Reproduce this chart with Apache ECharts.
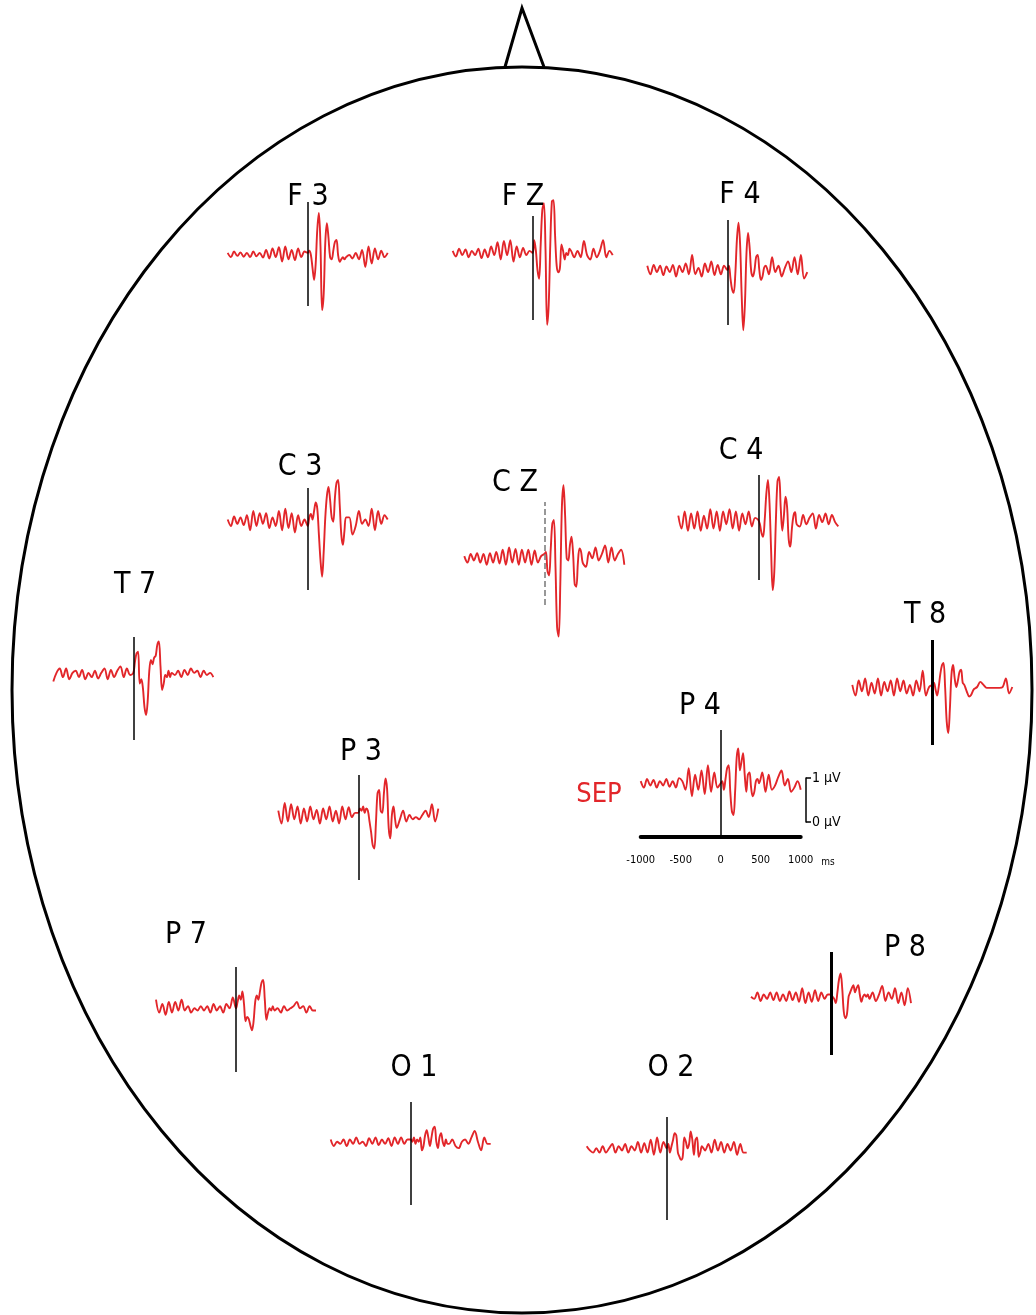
<!DOCTYPE html>
<html><head><meta charset="utf-8">
<script src="https://cdn.jsdelivr.net/npm/echarts@6/dist/echarts.min.js"></script>
<style>html,body{margin:0;padding:0;background:#fff}#c{width:1036px;height:1315px}</style>
</head><body><div id="c"></div>
<script>
// ---- data ----
const TIMES = [-1000,-960,-920,-880,-840,-800,-760,-720,-680,-640,-600,-560,-520,-480,-440,-400,-360,-320,-280,-240,-200,-160,-120,-80,-40,
  0,20,40,60,80,100,120,140,160,180,200,220,240,260,280,300,320,340,360,380,400,420,440,460,480,
  520,560,600,640,680,720,760,800,840,880,920,960,1000];
const X_TICKS = [-1000, -500, 0, 500, 1000];
const SCALE_TICKS = [0, 1];
const CHANNELS = ['F 3','F Z','F 4','C 3','C Z','C 4','T 7','T 8','P 3','P 4','P 7','P 8','O 1','O 2'];

const F3 = [0.05,-0.05,0.08,-0.02,0.06,-0.04,0.05,-0.05,0.08,-0.03,0.05,-0.06,0.12,-0.08,0.15,-0.05,0.18,-0.15,0.2,-0.1,0.12,-0.12,0.15,-0.05,0.08,
  0.05,0.1,0.0,-0.3,-0.58,-0.2,0.6,0.98,0.2,-1.28,-0.9,0.3,0.74,0.4,-0.05,-0.1,0.1,0.3,0.35,0.0,-0.16,-0.1,-0.05,-0.1,-0.05,
  0.0,-0.08,0.05,-0.1,0.12,-0.28,0.2,-0.2,0.15,-0.1,0.1,-0.05,0.05];
const FZ = [0.05,-0.08,0.1,-0.05,0.08,-0.1,0.05,-0.05,0.1,-0.12,0.08,-0.1,0.15,-0.05,0.25,-0.15,0.28,-0.05,0.3,-0.2,0.15,-0.1,0.12,-0.05,0.05,
  0.0,0.3,0.05,-0.4,-0.6,0.2,1.0,1.16,0.1,-1.67,-1.2,0.2,1.2,1.23,0.4,-0.3,-0.45,-0.35,0.2,0.05,-0.15,0.0,-0.05,0.1,0.05,
  -0.1,0.05,-0.1,0.28,-0.05,-0.15,0.1,-0.1,0.05,0.3,-0.1,0.05,-0.05];
const F4 = [0.1,-0.1,0.12,-0.05,0.1,-0.12,0.08,-0.05,0.12,-0.15,0.1,-0.05,0.15,-0.1,0.35,-0.1,0.05,-0.15,0.15,-0.05,0.2,-0.12,0.12,-0.1,0.1,
  0.0,0.1,-0.2,-0.45,-0.53,-0.1,0.7,1.1,0.6,-0.6,-1.4,-0.8,0.4,0.86,0.5,-0.05,-0.15,0.0,0.3,0.35,0.0,-0.23,-0.15,0.05,0.1,
  -0.1,0.3,-0.05,0.1,-0.15,0.05,0.2,-0.05,0.3,-0.1,0.35,-0.2,-0.05];
const C3 = [0.05,-0.1,0.12,-0.05,0.1,-0.08,0.15,-0.2,0.25,-0.1,0.2,-0.05,0.2,-0.15,0.1,-0.1,0.25,-0.2,0.3,-0.15,0.2,-0.25,0.15,-0.1,0.05,
  -0.1,0.1,0.18,0.05,0.25,0.45,0.3,-0.3,-0.9,-1.28,-0.7,0.1,0.6,0.81,0.5,0.1,0.0,0.55,0.9,0.97,0.4,-0.3,-0.54,-0.2,0.1,
  0.1,-0.3,-0.1,0.25,-0.05,0.05,-0.1,0.3,-0.2,0.25,-0.05,0.15,0.05];
const CZ = [0.05,-0.1,0.1,-0.05,0.12,-0.1,0.1,-0.15,0.12,-0.1,0.15,-0.12,0.2,-0.15,0.25,-0.1,0.22,-0.15,0.2,-0.1,0.2,-0.15,0.18,-0.1,0.05,
  0.1,0.15,-0.3,-0.4,0.2,0.8,0.89,-0.2,-1.6,-1.82,-0.6,1.2,1.7,1.0,0.0,-0.05,0.3,0.5,0.1,-0.6,-0.66,-0.1,0.23,0.15,-0.1,
  -0.2,0.15,0.0,0.25,-0.05,0.1,0.3,-0.1,0.25,-0.05,0.1,0.2,-0.15];
const C4 = [0.1,-0.2,0.2,-0.25,0.15,-0.2,0.2,-0.25,0.1,-0.2,0.25,-0.2,0.2,-0.25,0.2,-0.1,0.25,-0.2,0.2,-0.25,0.15,-0.1,0.2,-0.15,0.05,
  0.0,-0.1,-0.3,-0.39,0.0,0.6,0.93,0.4,-0.7,-1.63,-1.2,0.0,0.9,1.0,0.3,-0.25,0.1,0.54,0.3,-0.45,-0.62,-0.2,0.1,0.18,-0.1,
  -0.15,0.12,-0.1,0.05,0.15,-0.2,0.12,-0.05,0.15,-0.1,0.12,-0.05,-0.15];
const T7 = [-0.15,0.05,0.15,-0.05,0.15,-0.1,0.05,0.1,-0.05,0.12,-0.1,0.05,-0.05,0.1,-0.08,0.05,0.15,-0.1,0.12,-0.05,0.1,0.2,-0.05,0.15,0.0,
  0.05,0.3,0.5,0.54,-0.2,-0.1,-0.3,-0.75,-0.93,-0.6,0.1,0.35,0.25,0.4,0.45,0.7,0.78,0.2,-0.35,-0.2,0.0,-0.05,0.1,-0.05,0.05,
  0.0,0.1,-0.05,0.12,0.0,0.15,0.05,0.1,-0.05,0.1,0.0,0.05,-0.05];
const T8 = [0.05,-0.2,0.15,-0.1,0.2,-0.2,0.1,-0.15,0.2,-0.2,0.12,-0.1,0.15,-0.2,0.2,-0.1,0.15,-0.15,0.05,-0.2,0.15,-0.1,0.38,-0.2,0.0,
  0.05,0.1,-0.05,-0.2,0.0,0.3,0.5,0.56,0.0,-0.8,-1.07,-0.5,0.3,0.51,0.2,0.0,0.15,0.35,0.4,0.1,0.05,-0.05,-0.15,-0.22,-0.2,
  -0.05,0.0,0.12,0.05,-0.02,-0.02,-0.02,-0.02,-0.02,0.0,0.2,-0.15,0.0];
const P3 = [0.1,-0.2,0.28,-0.15,0.25,-0.1,0.2,-0.2,0.15,-0.15,0.2,-0.1,0.12,-0.2,0.15,-0.1,0.2,-0.15,0.1,-0.2,0.2,-0.1,0.18,-0.05,0.05,
  0.05,0.15,0.1,0.2,0.05,0.15,0.1,-0.15,-0.4,-0.7,-0.78,-0.2,0.5,0.58,0.1,0.05,0.5,0.85,0.6,-0.3,-0.54,0.0,0.2,-0.1,-0.3,
  -0.1,0.1,-0.15,0.0,-0.1,-0.05,-0.1,0.0,0.1,-0.05,0.25,-0.15,0.15];
const P4 = [0.05,-0.1,0.1,-0.05,0.08,-0.1,0.05,-0.05,0.1,-0.08,0.05,-0.1,0.12,0.05,-0.15,0.35,-0.3,0.2,-0.15,0.3,-0.25,0.42,-0.2,0.25,-0.1,
  0.0,0.05,-0.15,0.1,0.35,0.42,-0.2,-0.65,-0.74,-0.2,0.6,0.81,0.3,0.5,0.7,0.2,-0.2,0.2,0.25,-0.1,-0.3,-0.2,0.05,0.1,0.0,
  0.25,-0.2,0.2,-0.15,-0.05,0.15,0.3,-0.05,0.1,-0.2,-0.1,0.05,-0.15];
const P7 = [0.2,-0.1,0.1,-0.15,0.15,-0.1,0.15,-0.05,0.2,-0.05,0.05,-0.1,0.0,-0.05,0.05,-0.05,0.05,-0.1,0.1,-0.05,0.05,-0.1,0.1,0.0,0.25,
  0.0,0.15,0.3,0.2,0.39,0.1,-0.3,-0.2,-0.25,-0.4,-0.51,-0.3,0.15,0.3,0.2,0.4,0.6,0.66,0.2,-0.27,-0.1,0.0,-0.05,0.05,-0.05,
  0.0,-0.1,0.05,-0.05,0.0,0.05,0.15,0.0,0.05,-0.1,0.05,-0.05,-0.05];
const P8 = [0.0,-0.05,0.1,-0.1,0.05,-0.05,0.1,-0.08,0.1,-0.1,0.05,-0.1,0.12,-0.08,0.1,-0.12,0.2,-0.15,0.1,-0.12,0.15,-0.1,0.1,-0.05,0.05,
  0.05,0.0,-0.05,-0.15,0.1,0.4,0.54,0.2,-0.35,-0.5,-0.4,0.0,0.1,0.2,0.27,0.1,0.2,0.27,0.05,-0.12,0.0,0.05,0.0,0.05,-0.05,
  0.1,-0.1,0.05,0.25,-0.1,0.1,-0.05,0.2,-0.15,0.1,-0.2,0.2,-0.15];
const O1 = [0.05,-0.1,0.0,-0.05,0.05,-0.1,0.05,-0.05,0.1,-0.05,0.0,-0.1,0.08,-0.05,0.1,-0.08,0.05,-0.05,0.08,-0.1,0.1,-0.05,0.1,-0.05,0.05,
  0.05,0.0,0.1,-0.05,0.05,0.0,0.1,-0.2,-0.1,0.15,0.27,0.1,-0.1,0.1,0.3,0.35,0.0,-0.15,0.1,0.2,0.0,-0.1,0.05,-0.05,-0.05,
  0.05,-0.1,-0.15,0.0,0.05,-0.05,0.1,0.25,0.0,-0.2,0.1,-0.05,-0.05];
const O2 = [0.05,-0.05,-0.1,0.0,-0.1,0.05,-0.1,0.0,0.1,-0.1,0.05,-0.05,0.1,-0.1,0.05,-0.05,0.15,-0.1,0.12,-0.1,0.2,-0.15,0.25,-0.1,0.15,
  0.0,0.1,-0.1,0.05,0.2,0.35,0.3,-0.1,-0.2,-0.27,-0.2,0.25,0.15,0.0,0.1,0.39,0.2,-0.15,0.2,0.25,-0.2,-0.1,0.05,0.0,-0.05,
  0.1,-0.1,0.2,-0.05,0.15,-0.1,0.1,-0.05,0.15,-0.15,0.1,-0.1,-0.1];

const VALUES = {'F 3':F3,'F Z':FZ,'F 4':F4,'C 3':C3,'C Z':CZ,'C 4':C4,'T 7':T7,'T 8':T8,
  'P 3':P3,'P 4':P4,'P 7':P7,'P 8':P8,'O 1':O1,'O 2':O2};

// ---- layout (pixel positions, styling) ----
const PX_PER_UV = 43;
const LAYOUT = {
  'F 3': {cx:307.7, base:255,   top:202, bottom:306, lx:308, ly:197},
  'F Z': {cx:532.7, base:253,   top:216, bottom:320, lx:523, ly:197},
  'F 4': {cx:727.3, base:270,   top:220, bottom:325, lx:740, ly:195},
  'C 3': {cx:307.7, base:521.7, top:488, bottom:590, lx:300, ly:467},
  'C Z': {cx:544.3, base:558.3, top:502, bottom:605, lx:515, ly:483, dash:true},
  'C 4': {cx:758.3, base:520,   top:475, bottom:580, lx:741, ly:451},
  'T 7': {cx:133.3, base:675,   top:637, bottom:740, lx:135, ly:585},
  'T 8': {cx:932.3, base:687,   top:640, bottom:745, lx:925, ly:615, mw:3},
  'P 3': {cx:358.3, base:815,   top:775, bottom:880, lx:361, ly:752},
  'P 4': {cx:720.7, base:783.3, top:730, bottom:836.7, lx:700, ly:706},
  'P 7': {cx:236,   base:1008.3,top:967, bottom:1072, lx:186, ly:935},
  'P 8': {cx:831,   base:996.7, top:952, bottom:1055, lx:905, ly:948, mw:3},
  'O 1': {cx:410.7, base:1141.7,top:1102,bottom:1205, lx:414, ly:1068},
  'O 2': {cx:666.7, base:1148.3,top:1117,bottom:1220, lx:671, ly:1068}
};
const LABEL_FONT = "'Liberation Sans Narrow','DejaVu Sans Condensed','Noto Sans',sans-serif";
const TRACE_COLOR = '#e2262a';

const option = {animation:false, backgroundColor:'#fff', grid:[], xAxis:[], yAxis:[], series:[], graphic:[]};

CHANNELS.forEach((name, i) => {
  const L = LAYOUT[name];
  const isP4 = name === 'P 4';
  option.grid.push({left:L.cx-80, top:L.top, width:160, height:L.bottom-L.top});
  option.xAxis.push({
    gridIndex:i, type:'value', min:X_TICKS[0], max:X_TICKS[X_TICKS.length-1], interval:500,
    show:isP4, position:'bottom',
    axisLine:{show:true, onZero:false, lineStyle:{color:'#000', width:4}},
    axisTick:{show:false}, splitLine:{show:false},
    axisLabel:{show:true, color:'#000', fontSize:11, margin:18, fontFamily:LABEL_FONT,
      formatter: v => String(v)}
  });
  option.yAxis.push({
    gridIndex:i, type:'value', show:false,
    min:-(L.bottom-L.base)/PX_PER_UV, max:(L.base-L.top)/PX_PER_UV, splitLine:{show:false}
  });
  option.series.push({
    type:'line', name, xAxisIndex:i, yAxisIndex:i, clip:false,
    data: TIMES.map((t,k) => [t, VALUES[name][k]]),
    showSymbol:false, smooth:0.35,
    lineStyle:{color:TRACE_COLOR, width:1.9},
    markLine:{silent:true, symbol:'none', label:{show:false},
      lineStyle:{color:L.dash ? '#777' : '#000', width:L.mw || 1.5, type:L.dash ? 'dashed' : 'solid'},
      data:[{xAxis:0}]}
  });
  option.graphic.push({type:'text', x:L.lx, y:L.ly, z:10,
    style:{text:name, fill:'#000', font:"30px " + LABEL_FONT, align:'center', verticalAlign:'middle'}});
});

// scale bar (0-1 µV) next to P4
const si = CHANNELS.length;
option.grid.push({left:806, top:778, width:1, height:44});
option.xAxis.push({gridIndex:si, type:'value', show:false, min:0, max:1});
option.yAxis.push({gridIndex:si, type:'value', position:'right', min:SCALE_TICKS[0], max:SCALE_TICKS[1], interval:1,
  axisLine:{show:true, lineStyle:{color:'#000', width:1.5}},
  axisTick:{show:true, inside:false, length:5, lineStyle:{color:'#000', width:1.5}},
  splitLine:{show:false},
  axisLabel:{color:'#000', fontSize:14, margin:5, padding:[8,0,0,0], fontFamily:LABEL_FONT, formatter:'{value} µV'}});

// head outline, nose, extra texts
option.graphic.push(
  {type:'ellipse', shape:{cx:522, cy:690, rx:510, ry:623}, style:{fill:'none', stroke:'#000', lineWidth:3}, z:1},
  {type:'polyline', shape:{points:[[505,67],[522,8],[544,67]]}, style:{fill:'none', stroke:'#000', lineWidth:3}, z:1},
  {type:'text', x:599, y:795, z:10, style:{text:'SEP', fill:'#e2262a', font:"27px " + LABEL_FONT, align:'center', verticalAlign:'middle'}},
  {type:'text', x:828, y:862, z:10, style:{text:'ms', fill:'#000', font:"10px " + LABEL_FONT, align:'center', verticalAlign:'middle'}}
);

const chart = echarts.init(document.getElementById('c'), null, {renderer:'canvas'});
chart.setOption(option);
</script>
</body></html>
